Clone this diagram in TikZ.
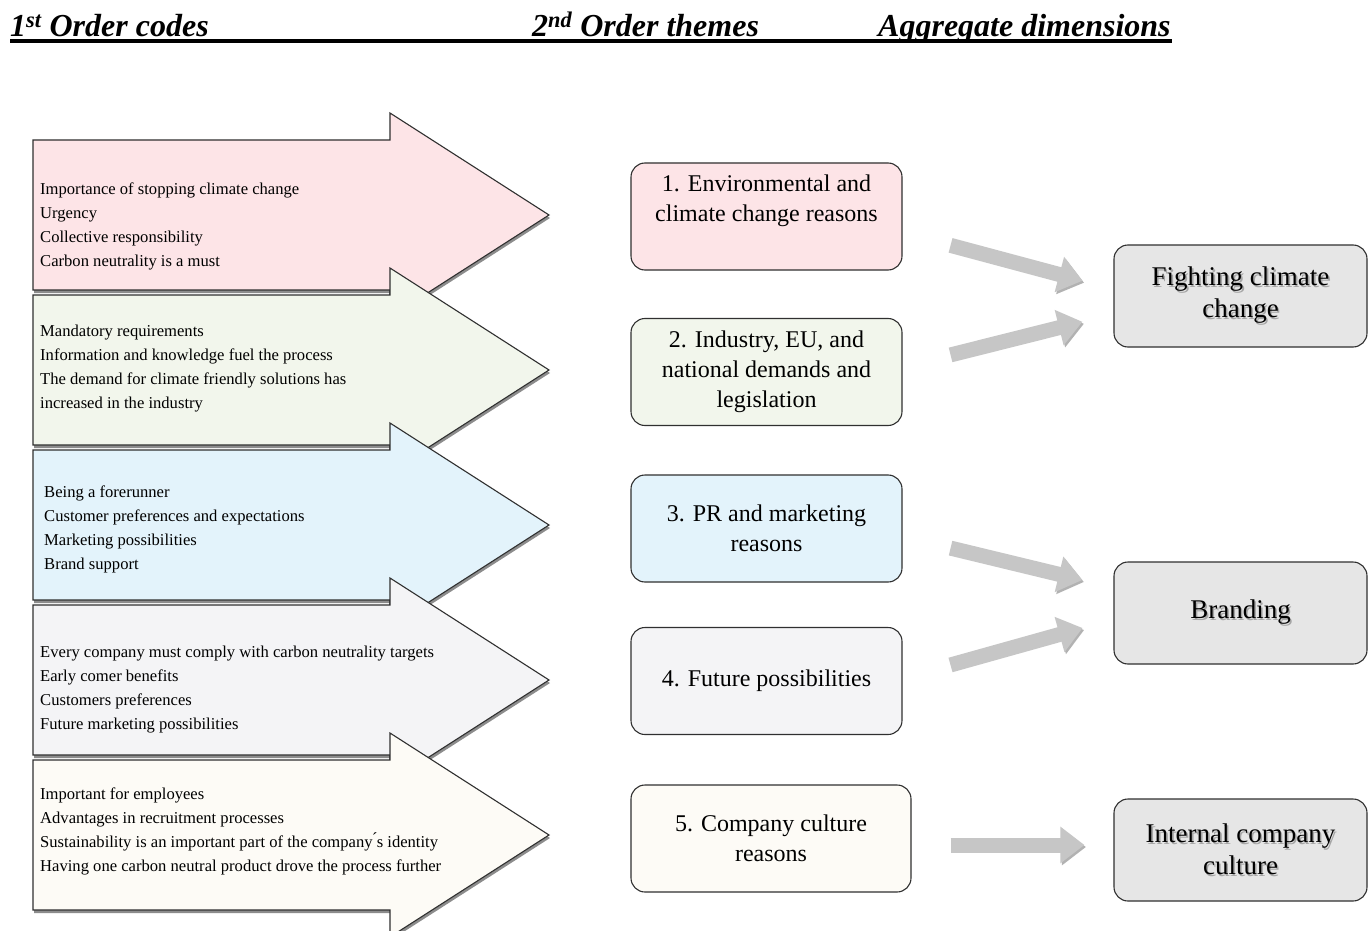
\documentclass[tikz,border=0pt]{standalone}
\usepackage{fontspec}
\setmainfont{Liberation Serif}
\usetikzlibrary{arrows.meta}

\definecolor{pinkA}{HTML}{FDE4E7}
\definecolor{greenA}{HTML}{F2F6EC}
\definecolor{blueA}{HTML}{E3F3FB}
\definecolor{greyA}{HTML}{F4F4F6}
\definecolor{creamA}{HTML}{FDFBF6}
\definecolor{dimfill}{HTML}{E6E6E6}
\definecolor{edge}{HTML}{303030}
\definecolor{flowgray}{HTML}{C6C6C6}

% block arrow of the first-order codes: fill colour, centre y
\newcommand\codearrow[2]{%
  \fill[black!45, shift={(1pt,-3pt)}]
    (33,#2-75) -- (390,#2-75) -- (390,#2-102) -- (549,#2) --
    (390,#2+102) -- (390,#2+75) -- (33,#2+75) -- cycle;
  \filldraw[fill=#1, draw=edge, line width=1.1pt]
    (33,#2-75) -- (390,#2-75) -- (390,#2-102) -- (549,#2) --
    (390,#2+102) -- (390,#2+75) -- (33,#2+75) -- cycle;
}
% text with a soft grey shadow
\newcommand\shtext[1]{\leavevmode\rlap{\hspace{1.6pt}\raisebox{-1.8pt}{\color{black!35}#1}}#1}

\tikzset{
  headtxt/.style={font=\fontsize{32}{38}\selectfont\bfseries\itshape, inner sep=0pt, anchor=base west},
  codetxt/.style={font=\fontsize{16.6}{24}\selectfont, align=left, inner sep=0pt, anchor=west},
  themebox/.style={draw=edge, line width=1.1pt, rounded corners=14pt, minimum width=271pt,
    minimum height=107pt, inner sep=0pt, align=center, font=\fontsize{24}{30}\selectfont},
  dimbox/.style={draw=edge, line width=1.1pt, rounded corners=14pt, fill=dimfill, minimum width=253pt,
    minimum height=102pt, inner sep=0pt, align=center, font=\fontsize{27}{32}\selectfont},
  flow/.style={draw=flowgray, line width=15pt, -{Triangle[width=35pt,length=24pt]},
    preaction={draw=black!30, transform canvas={shift={(1.5pt,-2pt)}}}}
}

\begin{document}
\begin{tikzpicture}[x=1pt,y=-1pt]
\useasboundingbox (0,0) rectangle (1371,931);
\fill[white] (0,0) rectangle (1371,931);

% column headings
\node[headtxt] (h1) at (10,37) {1\textsuperscript{st} Order codes};
\node[headtxt] (h2) at (532,37) {2\textsuperscript{nd} Order themes};
\node[headtxt] (h3) at (878,37) {Aggregate dimensions};
\draw[line width=3.5pt] (10,41) -- (1172,41);

% first-order codes
\codearrow{pinkA}{215}
\node[codetxt] (c1) at (40,226) {Importance of stopping climate change\\Urgency\\Collective responsibility\\Carbon neutrality is a must};
\codearrow{greenA}{370}
\node[codetxt] (c2) at (40,369) {Mandatory requirements\\Information and knowledge fuel the process\\The demand for climate friendly solutions has\\increased in the industry};
\codearrow{blueA}{525}
\node[codetxt] (c3) at (44,529) {Being a forerunner\\Customer preferences and expectations\\Marketing possibilities\\Brand support};
\codearrow{greyA}{680}
\node[codetxt] (c4) at (40,690) {Every company must comply with carbon neutrality targets\\Early comer benefits\\Customers preferences\\Future marketing possibilities};
\codearrow{creamA}{835}
\node[codetxt] (c5) at (40,831) {Important for employees\\Advantages in recruitment processes\\Sustainability is an important part of the company\'{}s identity\\Having one carbon neutral product drove the process further};

% second-order themes
\node[themebox, fill=pinkA] (t1) at (766.5,216.5) {};
\node[themebox, draw=none, fill=none] (t1l) at (766.5,201) {1. Environmental and\\climate change reasons};
\node[themebox, fill=greenA] (t2) at (766.5,372) {2. Industry, EU, and\\national demands and\\legislation};
\node[themebox, fill=blueA] (t3) at (766.5,528.5) {3. PR and marketing\\reasons};
\node[themebox, fill=greyA] (t4) at (766.5,681) {4. Future possibilities};
\node[themebox, fill=creamA, minimum width=280pt] (t5) at (771,838.5) {5. Company culture\\reasons};

% aggregate dimensions
\node[dimbox] (d1) at (1240.5,296) {\shtext{Fighting climate}\\\shtext{change}};
\node[dimbox] (d2) at (1240.5,613) {\shtext{Branding}};
\node[dimbox] (d3) at (1240.5,850) {\shtext{Internal company}\\\shtext{culture}};

% links from themes to dimensions
\draw[flow, shorten <=49.7pt, shorten >=32pt] ([yshift=-16pt]t1.east) -- ([yshift=7pt]d1.west);
\draw[flow, shorten <=49.5pt, shorten >=32pt] ([yshift=5pt]t2.east) -- ([yshift=-18pt]d1.west);
\draw[flow, shorten <=49.4pt, shorten >=32pt] ([yshift=-8pt]t3.east) -- ([yshift=25.5pt]d2.west);
\draw[flow, shorten <=49.8pt, shorten >=32pt] ([yshift=2.6pt]t4.east) -- ([yshift=-6.4pt]d2.west);
\draw[flow, shorten <=39pt, shorten >=29pt] ([yshift=-6.5pt]t5.east) -- ([yshift=5pt]d3.west);
\end{tikzpicture}
\end{document}
